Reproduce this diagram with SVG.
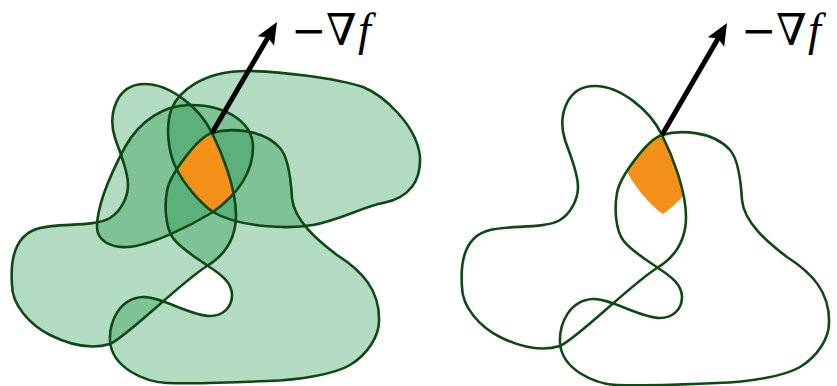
<svg xmlns="http://www.w3.org/2000/svg" xmlns:xlink="http://www.w3.org/1999/xlink" width="837" height="386" viewBox="0 0 837 386">
<style>
.fill{fill:#128e3d;fill-opacity:0.32;stroke:none}
.edge{fill:none;stroke:#0c4a12;stroke-width:2.6;stroke-linejoin:round}
.orange{fill:#f39019;stroke:none}
.arrow{stroke:#000;stroke-width:5;fill:none;marker-end:url(#head)}
.lbl{font-family:"DejaVu Serif","Liberation Serif",serif;font-size:42px;fill:#000}
</style>
<defs>
<path id="r1" d="M595,86 C620,86 650,110 662,135 C672,155 686,190 686,217 C686,240 675,257 657,268 C630,285 578,338 560,346 C540,352 520,347 500,337 C480,327 462,307 462,287 C460,260 465,236 490,230 C510,225 545,229 560,220 C570,214 578,200 578,187 C578,172 570,155 565,140 C558,118 565,86 595,86 Z"/>
<path id="r2" d="M662,135 C678,130 712,130 730,150 C739,160 741,183 742,200 C744,222 767,242 787,257 C812,273 830,292 829,323 C829,338 818,356 800,367 C785,376 750,382 717,383 C695,384 650,386 617,385 C595,384 562,370 560,343 C559,323 570,300 593,299 C610,298 640,318 660,318 C672,318 682,310 682,297 C682,285 672,277 658,268 C645,259 630,250 623,240 C616,230 614,210 617,193 C620,176 648,139 662,135 Z"/>
<path id="l1" d="M213,212 C200,203 184,184 176,168 C168,152 165,125 172,108 C178,94 200,70 250,71 C280,71.5 335,78 363,87 C383,95 417,125 420,157 C421,180 410,198 383,203 C365,206 340,220 313,225 C290,229 240,228 213,212 Z"/>
<path id="l4" d="M213,212 C235,196 253,175 253,147 C253,125 230,105 190,105 C165,105 140,120 125,147 C117,162 97,200 97,227 C97,240 110,248 127,247 C150,246 190,226 213,212 Z"/>
<clipPath id="cl1"><use xlink:href="#l1"/></clipPath>
<clipPath id="cl4"><use xlink:href="#l4"/></clipPath>
<clipPath id="cl2"><use xlink:href="#r1" transform="translate(-450,-2)"/></clipPath>
<clipPath id="cl3"><use xlink:href="#r2" transform="translate(-450,-2)"/></clipPath>
<marker id="head" markerUnits="userSpaceOnUse" viewBox="-12 -12 26 24" refX="0" refY="0" markerWidth="26" markerHeight="24" orient="auto" overflow="visible">
<path d="M12,0 L-10,-9.5 L-6,0 L-10,9.5 Z" fill="#000"/>
</marker>
</defs>

<g id="left-panel">
<g id="left-fills">
<use class="fill" xlink:href="#l1"/>
<use class="fill" xlink:href="#l4"/>
<use class="fill" xlink:href="#r1" transform="translate(-450,-2)"/>
<use class="fill" xlink:href="#r2" transform="translate(-450,-2)"/>
</g>
<g id="orange-left">
<g clip-path="url(#cl1)"><g clip-path="url(#cl4)"><g clip-path="url(#cl2)">
<rect class="orange" clip-path="url(#cl3)" x="150" y="100" width="120" height="130"/>
</g></g></g>
</g>
<g id="left-outlines">
<use class="edge" xlink:href="#l1"/>
<use class="edge" xlink:href="#l4"/>
<use class="edge" xlink:href="#r1" transform="translate(-450,-2)"/>
<use class="edge" xlink:href="#r2" transform="translate(-450,-2)"/>
</g>
</g>

<g id="right-panel">
<use id="orange-right" xlink:href="#orange-left" transform="translate(450,2)"/>
<g id="right-outlines">
<use class="edge" xlink:href="#r1"/>
<use class="edge" xlink:href="#r2"/>
</g>
</g>

<g id="connectors">
<line class="arrow" x1="212" y1="133" x2="270.9" y2="32.4"/>
<line class="arrow" x1="662" y1="135" x2="721" y2="33.4"/>
</g>

<g id="label-left">
<text class="lbl" y="45"><tspan x="291">−</tspan><tspan x="326" font-size="44">∇</tspan><tspan x="358" font-family="'Liberation Serif', serif" font-style="italic" font-size="46">f</tspan></text>
</g>
<g id="label-right">
<text class="lbl" y="45"><tspan x="741">−</tspan><tspan x="776" font-size="44">∇</tspan><tspan x="808" font-family="'Liberation Serif', serif" font-style="italic" font-size="46">f</tspan></text>
</g>
</svg>
